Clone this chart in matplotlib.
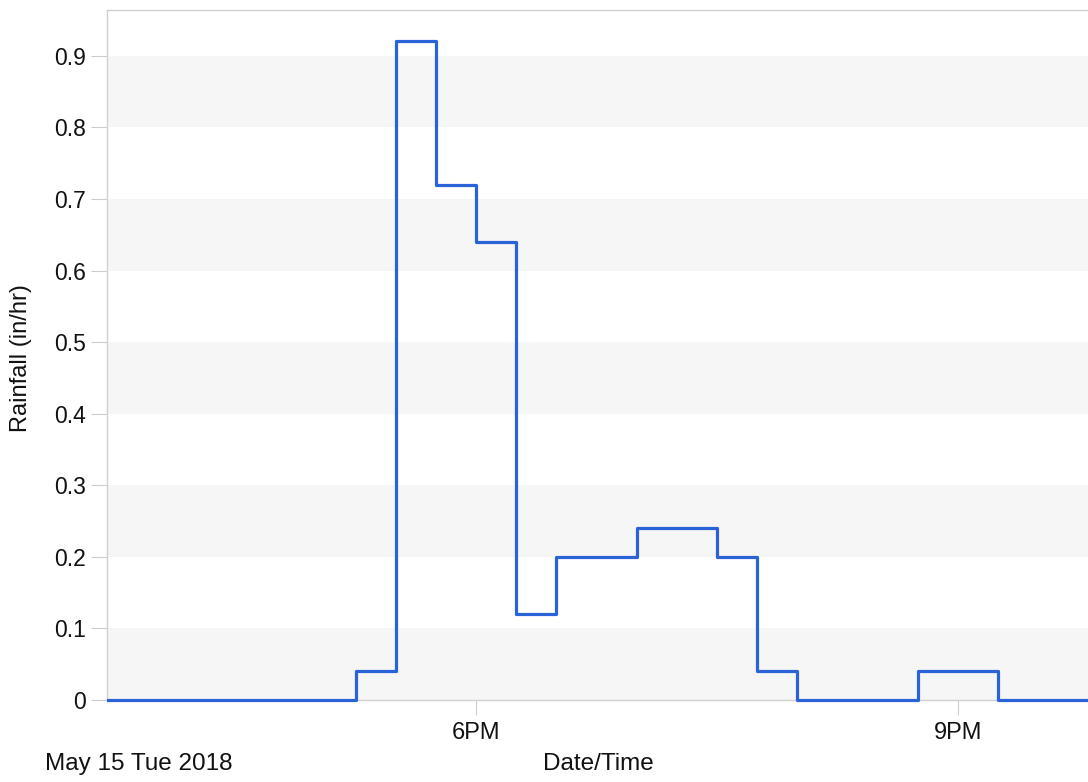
import pandas as pd
import matplotlib
matplotlib.use('Agg')
import matplotlib.pyplot as plt
from matplotlib.ticker import FuncFormatter
from matplotlib.transforms import Bbox, TransformedBbox

plt.rcParams['font.family'] = ['Liberation Sans', 'DejaVu Sans']

# 15-minute rainfall record, May 15 2018
times = ['15:30', '15:45', '16:00', '16:15', '16:30', '16:45', '17:00', '17:15',
         '17:30', '17:45', '18:00', '18:15', '18:30', '18:45', '19:00', '19:15',
         '19:30', '19:45', '20:00', '20:15', '20:30', '20:45', '21:00', '21:15',
         '21:30', '21:45', '22:00']
rainfall = [0, 0, 0, 0, 0, 0, 0, 0.04,
            0.92, 0.72, 0.64, 0.12, 0.20, 0.20, 0.24, 0.24,
            0.20, 0.04, 0, 0, 0, 0.04, 0.04, 0,
            0, 0, 0]
y_ticks = [0, 0.1, 0.2, 0.3, 0.4, 0.5, 0.6, 0.7, 0.8, 0.9]
x_ticks = ['18:00', '21:00']
x_tick_labels = ['6PM', '9PM']

day = '2018-05-15 '
t = pd.to_datetime([day + s for s in times])

fig = plt.figure(figsize=(10.88, 7.82), dpi=100)
ax = fig.add_axes([107 / 1088, 1 - 700 / 782, 1 - 107 / 1088, 690 / 782])

# alternating background bands
for lo in y_ticks[::2]:
    ax.axhspan(lo, lo + 0.1, color='#f6f6f6', lw=0, zorder=0)

line, = ax.plot(t, rainfall, drawstyle='steps-post', color='#2a62d8', lw=2.3,
                zorder=3)
# clip only left/right so the zero line is not cut in half at the bottom
line.set_clip_box(TransformedBbox(Bbox([[0, -0.05], [1, 1.05]]), ax.transAxes))

ax.set_xlim(pd.Timestamp(day + '15:42:12'), pd.Timestamp(day + '21:48:30'))
ax.set_ylim(0, 0.964)

ax.set_yticks(y_ticks)
ax.yaxis.set_major_formatter(FuncFormatter(lambda v, p: f'{v:g}'))
ax.set_xticks(pd.to_datetime([day + s for s in x_ticks]))
ax.set_xticklabels(x_tick_labels)

ax.tick_params(axis='y', length=11.5, width=0.8, color='#cccccc', pad=3.5,
               labelsize=16.5, labelcolor='#111111')
ax.tick_params(axis='x', length=11, width=0.8, color='#cccccc', pad=5,
               labelsize=17, labelcolor='#111111')

for side in ['left', 'top', 'bottom']:
    ax.spines[side].set_color('#d0d0d0')
    ax.spines[side].set_linewidth(1.0)
ax.spines['right'].set_visible(False)

fig.text(21 / 1088, 1 - 358 / 782, 'Rainfall (in/hr)', rotation=90,
         ha='center', va='center', fontsize=17, color='#111111')
fig.text(598 / 1088, 1 - 764 / 782, 'Date/Time', ha='center', va='center',
         fontsize=17.5, color='#111111')
fig.text(45 / 1088, 1 - 764 / 782, 'May 15 Tue 2018', ha='left', va='center',
         fontsize=17.5, color='#111111')

fig.savefig('out.png', dpi=100)
